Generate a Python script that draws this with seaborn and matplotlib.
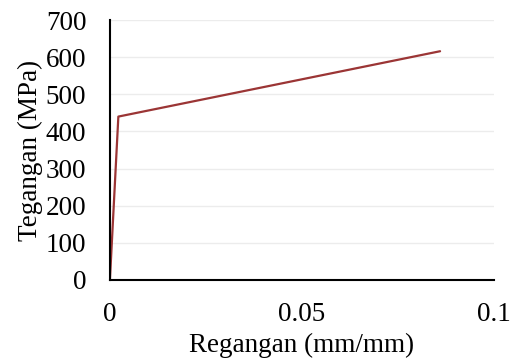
import numpy as np
import pandas as pd
import matplotlib
matplotlib.use("Agg")
import matplotlib.pyplot as plt
import seaborn as sns

# data
regangan = [0.0, 0.0022, 0.086]
tegangan = [0.0, 440.0, 616.0]

df = pd.DataFrame({"Regangan": regangan, "Tegangan": tegangan})

sns.set_style("white")
plt.rcParams["font.family"] = ["Liberation Serif", "DejaVu Serif"]
plt.rcParams["text.color"] = "black"
plt.rcParams["axes.labelcolor"] = "black"

fig, ax = plt.subplots(figsize=(5.16, 3.58), dpi=100)
fig.subplots_adjust(left=0.213, right=0.957, top=0.944, bottom=0.218)

sns.lineplot(data=df, x="Regangan", y="Tegangan", color="#9b3535",
             linewidth=1.6, ax=ax, sort=False)

ax.set_xlim(0, 0.1)
ax.set_ylim(0, 700)
ax.set_xticks([0, 0.05, 0.1])
ax.set_xticklabels(["0", "0.05", "0.1"])
ax.set_yticks(range(0, 701, 100))
ax.yaxis.grid(True, color="#ececec", linewidth=1)
ax.set_axisbelow(True)

for s in ["top", "right"]:
    ax.spines[s].set_visible(False)
ax.spines["left"].set_color("black")
ax.spines["bottom"].set_color("black")
ax.spines["left"].set_linewidth(1.5)
ax.spines["bottom"].set_linewidth(1.5)

ax.tick_params(axis="both", length=0, labelsize=19.5, colors="black")
ax.tick_params(axis="x", pad=16)
ax.tick_params(axis="y", pad=17)

ax.set_xlabel("Regangan (mm/mm)", fontsize=19.5, labelpad=4)
ax.set_ylabel("Tegangan (MPa)", fontsize=19.5, labelpad=2)

fig.savefig("out.png", dpi=100)
